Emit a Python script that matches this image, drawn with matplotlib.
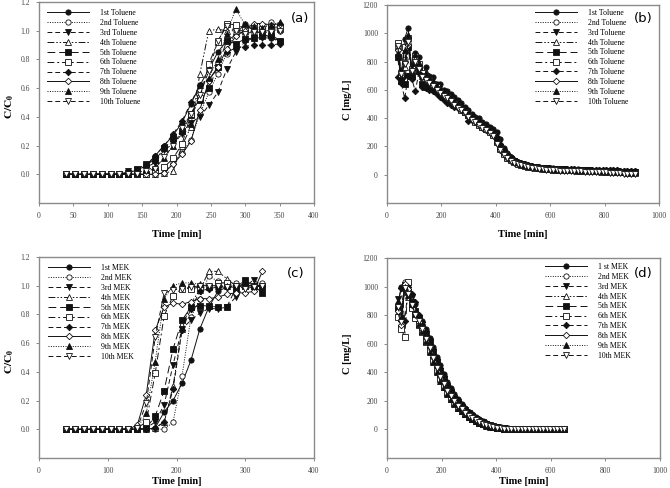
import numpy as np
import matplotlib
matplotlib.use("Agg")
import matplotlib.pyplot as plt

plt.rcParams['font.family'] = ['Liberation Serif', 'DejaVu Serif']
plt.rcParams['mathtext.fontset'] = 'stix'

## sampling times [min]
t_all = [39, 52, 65, 78, 91, 104, 117, 130, 143, 156,
         169, 182, 195, 208, 221, 234, 247, 260, 273, 286,
         299, 312, 325, 338, 351, 364, 377, 390, 403, 416,
         429, 442, 455, 468, 481, 494, 507, 520, 533, 546,
         559, 572, 585, 598, 611, 624, 637, 650, 663, 676,
         689, 702, 715, 728, 741, 754, 767, 780, 793, 806,
         819, 832, 845, 858, 871, 884, 897, 910]
t_a = t_all[:25]   # toluene breakthrough
t_b = t_all[:68]   # toluene concentration
t_c = t_all[:23]   # MEK breakthrough
t_d = t_all[:48]   # MEK concentration

## (a) toluene C/C0
a1 = [0]*7 + [0.01, 0.03, 0.06, 0.13, 0.20, 0.27, 0.36, 0.49, 0.62, 0.73, 0.85, 0.93, 0.97, 1.05, 1.00, 0.98, 0.95, 0.93]
a2 = [0]*11 + [0.01, 0.08, 0.15, 0.24, 0.42, 0.57, 0.70, 0.84, 1.00, 0.98, 1.00, 1.02, 1.06, 1.00]
a3 = [0]*7 + [0.02, 0.03, 0.05, 0.08, 0.17, 0.21, 0.28, 0.36, 0.40, 0.48, 0.57, 0.73, 0.85, 0.92, 0.95, 0.95, 0.95, 0.92]
a4 = [0]*11 + [0.01, 0.02, 0.20, 0.33, 0.70, 1.00, 1.01, 1.00, 1.00, 1.00, 1.00, 1.00, 1.00, 1.01]
a5 = [0]*7 + [0.01, 0.04, 0.07, 0.10, 0.18, 0.25, 0.30, 0.41, 0.52, 0.60, 0.75, 0.93, 0.91, 0.94, 0.95, 0.96, 0.97, 0.93]
a6 = [0]*10 + [0.03, 0.05, 0.11, 0.21, 0.42, 0.53, 0.77, 0.92, 1.05, 1.04, 1.02, 1.02, 1.01, 1.02, 1.02]
a7 = [0]*7 + [0.01, 0.03, 0.06, 0.13, 0.20, 0.28, 0.37, 0.50, 0.62, 0.66, 0.74, 0.85, 0.88, 0.89, 0.90, 0.90, 0.90, 0.91]
a8 = [0]*11 + [0.01, 0.07, 0.14, 0.23, 0.45, 0.65, 0.75, 0.87, 0.96, 1.00, 1.05, 1.05, 1.04, 1.05]
a9 = [0]*8 + [0.01, 0.03, 0.05, 0.11, 0.20, 0.30, 0.35, 0.62, 0.67, 0.80, 0.98, 1.15, 1.05, 1.03, 1.02, 1.04, 1.06]
a10 = [0]*9 + [0.02, 0.04, 0.12, 0.20, 0.32, 0.42, 0.55, 0.72, 0.93, 1.03, 1.00, 0.98, 0.99, 0.99, 0.99, 1.00]

## (b) toluene C [mg/L]
b1 = [840, 690, 960, 1040, 690, 860, 830, 710, 760, 700, 690, 640, 640, 600, 590, 570, 550, 530, 510, 480,
      460, 430, 410, 400, 370, 360, 340, 320, 300, 250, 190, 150, 125, 105, 92, 82, 74, 67, 62, 57,
      53, 50, 48, 46, 44, 43, 42, 41, 40, 39, 38, 37, 36, 36, 35, 34, 34, 33, 32, 32, 31, 30, 30, 29, 28, 28, 27, 26]
b2 = [900, 700, 820, 930, 720, 820, 760, 700, 690, 660, 640, 610, 590, 570, 550, 530, 510, 490, 470, 450,
      420, 400, 380, 360, 345, 330, 310, 290, 240, 190, 155, 128, 108, 94, 83, 74, 67, 61, 56, 52,
      48, 45, 43, 41, 39, 38, 37, 36, 35, 34, 33, 32, 31, 30, 29, 28, 27, 26, 25, 24, 23, 22, 21, 20, 19, 18, 17, 16]
b3 = [870, 680, 700, 950, 730, 800, 750, 690, 680, 660, 630, 610, 590, 570, 550, 530, 510, 490, 470, 450,
      425, 405, 385, 365, 345, 330, 315, 295, 245, 195, 160, 130, 110, 96, 85, 76, 68, 62, 57, 53,
      49, 46, 44, 42, 40, 39, 38, 37, 36, 35, 34, 33, 32, 31, 30, 29, 28, 27, 26, 25, 24, 23, 22, 21, 20, 19, 18, 17]
b4 = [920, 700, 760, 980, 760, 830, 770, 710, 700, 680, 650, 630, 600, 580, 560, 540, 520, 500, 470, 450,
      430, 410, 390, 370, 350, 335, 320, 300, 250, 200, 165, 135, 112, 97, 86, 77, 69, 63, 58, 54,
      50, 47, 45, 43, 41, 40, 39, 38, 37, 36, 35, 34, 33, 32, 31, 30, 29, 28, 27, 26, 25, 24, 23, 22, 21, 20, 19, 18]
b5 = [830, 660, 640, 900, 700, 780, 730, 640, 620, 640, 620, 600, 580, 560, 545, 525, 505, 485, 465, 440,
      420, 400, 380, 360, 340, 325, 310, 290, 240, 190, 155, 128, 108, 95, 84, 75, 68, 62, 57, 53,
      49, 46, 44, 42, 40, 39, 38, 37, 36, 35, 34, 33, 32, 31, 30, 29, 28, 27, 26, 25, 24, 23, 22, 21, 20, 19, 18, 17]
b6 = [930, 720, 900, 970, 750, 840, 780, 720, 700, 670, 640, 620, 590, 570, 550, 530, 505, 485, 460, 440,
      420, 395, 375, 355, 335, 320, 300, 280, 230, 180, 145, 120, 102, 89, 79, 71, 64, 58, 53, 49,
      45, 42, 40, 38, 36, 35, 34, 33, 32, 31, 30, 29, 28, 27, 26, 25, 24, 23, 22, 21, 20, 19, 18, 17, 16, 15, 14, 13]
b7 = [690, 650, 540, 700, 680, 590, 720, 620, 610, 600, 590, 570, 550, 530, 510, 490, 480, 470, 460, 440,
      380, 390, 380, 360, 350, 340, 325, 310, 270, 215, 175, 145, 122, 105, 92, 82, 74, 67, 61, 56,
      52, 49, 47, 45, 43, 42, 41, 40, 39, 38, 37, 36, 35, 34, 34, 33, 33, 32, 32, 31, 31, 30, 30, 29, 29, 28, 28, 27]
b8 = [880, 700, 800, 920, 740, 810, 760, 700, 680, 660, 640, 610, 590, 565, 545, 525, 500, 480, 460, 440,
      415, 395, 375, 355, 335, 318, 300, 280, 225, 178, 143, 118, 100, 87, 77, 69, 62, 56, 51, 47,
      44, 41, 39, 37, 35, 34, 33, 32, 31, 30, 29, 28, 27, 26, 25, 24, 23, 22, 21, 20, 19, 18, 17, 16, 15, 14, 13, 12]
b9 = [860, 690, 880, 990, 710, 850, 790, 700, 720, 690, 660, 630, 610, 590, 570, 550, 530, 505, 485, 465,
      440, 420, 400, 380, 360, 345, 330, 310, 260, 205, 168, 138, 116, 100, 88, 79, 71, 65, 59, 55,
      51, 48, 46, 44, 42, 41, 40, 39, 38, 37, 36, 35, 34, 33, 32, 31, 30, 29, 28, 27, 26, 25, 24, 23, 22, 21, 20, 19]
b10 = [910, 710, 780, 940, 730, 800, 750, 690, 670, 650, 630, 600, 580, 560, 540, 520, 495, 475, 455, 435,
       410, 390, 370, 350, 330, 315, 295, 275, 220, 175, 140, 115, 97, 84, 74, 66, 59, 53, 48, 44,
       40, 37, 35, 33, 31, 30, 29, 28, 27, 26, 25, 24, 23, 22, 21, 20, 19, 18, 17, 16, 15, 13, 12, 10, 8, 6, 4, 2]

## (c) MEK C/C0
c1 = [0]*10 + [0.01, 0.12, 0.20, 0.32, 0.48, 0.70, 0.85, 0.96, 0.99, 0.99, 1.00, 1.00, 1.00]
c2 = [0]*12 + [0.05, 0.37, 0.78, 0.91, 1.07, 1.03, 1.01, 1.02, 1.00, 0.99, 1.02]
c3 = [0]*9 + [0.01, 0.05, 0.17, 0.45, 0.70, 0.76, 0.81, 0.84, 0.84, 0.85, 0.92, 0.99, 1.04, 1.00]
c4 = [0]*10 + [0.01, 0.05, 0.30, 0.70, 0.88, 0.97, 1.10, 1.10, 1.05, 1.00, 1.00, 1.00, 0.99]
c5 = [0]*9 + [0.01, 0.09, 0.27, 0.56, 0.76, 0.85, 0.86, 0.86, 0.85, 0.85, 0.98, 1.04, 1.00, 0.95]
c6 = [0]*8 + [0.01, 0.05, 0.39, 0.79, 0.93, 0.98, 0.98, 0.99, 0.99, 1.02, 1.02, 1.00, 1.00, 1.00, 1.00]
c7 = [0]*10 + [0.01, 0.05, 0.28, 0.69, 0.84, 0.96, 0.98, 0.99, 0.99, 1.00, 1.01, 1.00, 1.00]
c8 = [0]*8 + [0.03, 0.24, 0.69, 0.85, 0.88, 0.87, 0.89, 0.91, 0.91, 0.92, 0.94, 0.95, 0.95, 0.96, 1.10]
c9 = [0]*8 + [0.01, 0.11, 0.47, 0.91, 1.00, 1.02, 1.02, 1.01, 1.00, 1.00, 1.00, 1.00, 1.01, 1.00, 1.00]
c10 = [0]*8 + [0.01, 0.18, 0.64, 0.95, 0.97, 0.98, 0.99, 1.00, 1.00, 1.00, 0.99, 1.00, 0.98, 0.99, 1.00]

## (d) MEK C [mg/L]
d1 = [840, 1000, 990, 1020, 940, 880, 790, 760, 700, 640, 580, 510, 450, 390, 335, 290, 245, 210, 180, 150,
      125, 105, 86, 70, 56, 44, 34, 26, 19, 14, 10, 7, 5, 3, 2, 1, 1] + [0]*11
d2 = [800, 720, 1030, 960, 860, 800, 740, 690, 630, 570, 500, 430, 370, 320, 275, 235, 200, 170, 142, 118,
      98, 81, 66, 53, 42, 33, 25, 18, 13, 9, 6, 4, 3, 2, 1] + [0]*13
d3 = [910, 760, 1000, 950, 870, 810, 750, 700, 640, 580, 510, 440, 380, 330, 285, 240, 205, 175, 147, 122,
      102, 85, 70, 56, 45, 35, 27, 20, 14, 10, 7, 5, 3, 2, 1, 1] + [0]*12
d4 = [870, 740, 990, 930, 860, 800, 740, 690, 620, 560, 490, 420, 360, 310, 265, 225, 190, 160, 134, 111,
      92, 76, 62, 50, 39, 30, 22, 16, 11, 8, 5, 3, 2, 1, 1] + [0]*13
d5 = [850, 780, 1010, 960, 890, 830, 780, 720, 670, 610, 540, 470, 410, 355, 305, 260, 222, 190, 160, 134,
      112, 93, 76, 61, 49, 38, 29, 21, 15, 11, 8, 5, 3, 2, 1, 1] + [0]*12
d6 = [790, 700, 650, 1030, 850, 780, 730, 680, 610, 550, 480, 410, 350, 300, 255, 215, 182, 153, 128, 106,
      87, 71, 58, 46, 36, 28, 21, 15, 10, 7, 5, 3, 2, 1] + [0]*14
d7 = [880, 990, 760, 1000, 950, 890, 800, 750, 690, 630, 560, 490, 430, 375, 320, 275, 235, 200, 170, 143,
      120, 100, 82, 67, 54, 42, 32, 24, 17, 12, 8, 6, 4, 2, 1, 1] + [0]*12
d8 = [830, 730, 1020, 980, 870, 810, 750, 700, 640, 580, 505, 435, 375, 325, 278, 238, 202, 172, 145, 120,
      100, 83, 68, 55, 43, 34, 26, 19, 13, 9, 6, 4, 3, 2, 1] + [0]*13
d9 = [900, 780, 1000, 940, 880, 810, 740, 690, 620, 540, 470, 400, 340, 295, 250, 212, 180, 152, 127, 105,
      86, 70, 57, 45, 35, 27, 20, 14, 10, 7, 5, 3, 2, 1, 1] + [0]*13
d10 = [860, 750, 990, 950, 870, 800, 760, 700, 630, 570, 500, 430, 370, 320, 272, 232, 197, 167, 140, 116,
       96, 79, 64, 51, 40, 31, 23, 17, 12, 8, 6, 4, 2, 1, 1] + [0]*13

tol_labels = ['1st Toluene', '2nd Toluene', '3rd Toluene', '4th Toluene', '5th Toluene',
              '6th Toluene', '7th Toluene', '8th Toluene', '9th Toluene', '10th Toluene']
mek_labels_c = ['1st MEK', '2nd MEK', '3rd MEK', '4th MEK', '5th MEK',
                '6th MEK', '7th MEK', '8th MEK', '9th MEK', '10th MEK']
mek_labels_d = ['1 st MEK'] + mek_labels_c[1:]

# line style, marker, filled?
styles = [
    ('-', 'o', True),
    ((0, (1, 1.5)), 'o', False),
    ((0, (5, 3)), 'v', True),
    ((0, (7, 2, 1.5, 2, 1.5, 2)), '^', False),
    ((0, (8, 4)), 's', True),
    ((0, (7, 3, 2, 3)), 's', False),
    ((0, (5, 3)), 'D', True),
    ('-', 'D', False),
    ((0, (1, 1.5)), '^', True),
    ((0, (5, 3)), 'v', False),
]

W, H = 670, 488
fig = plt.figure(figsize=(W / 100, H / 100), dpi=100)

def px_axes(x0, x1, ytop, ybot):
    return fig.add_axes([x0 / W, 1 - ybot / H, (x1 - x0) / W, (ybot - ytop) / H])

def draw(ax, t, series, labels, leg_x, leg_y, tag, tag_xy):
    for s, lab, (ls, mk, filled) in zip(series, labels, styles):
        assert len(s) == len(t)
        ms = 3.3 if mk == 'D' else 3.8
        ax.plot(t, s, color='#111111', lw=0.7, ls=ls, marker=mk, ms=ms,
                mfc='#111111' if filled else 'white', mec='#111111', mew=0.6, label=lab)
    ax.legend(loc='upper left', bbox_to_anchor=(leg_x, leg_y), frameon=False, fontsize=5.6,
              handlelength=5.4, handletextpad=1.4, labelspacing=0.24, borderpad=0,
              borderaxespad=0, numpoints=1)
    ax.text(tag_xy[0], tag_xy[1], tag, transform=ax.transAxes, ha='center', va='center',
            fontsize=9.5, family='DejaVu Sans')
    for sp in ax.spines.values():
        sp.set_color('#8a8a8a')
        sp.set_linewidth(1.0)
    ax.tick_params(labelsize=5.5, labelcolor='#444444', color='#777777', direction='out',
                   length=2.5, width=0.6, pad=4)

ax_a = px_axes(39, 314, 2, 203)
draw(ax_a, t_a, [a1, a2, a3, a4, a5, a6, a7, a8, a9, a10], tol_labels, 0.03, 0.965, '(a)', (0.949, 0.92))
ax_a.set_xlim(0, 400)
ax_a.set_ylim(-0.2, 1.2)
ax_a.set_xticks(range(0, 401, 50))
ax_a.set_yticks([0.0, 0.2, 0.4, 0.6, 0.8, 1.0, 1.2])
ax_a.set_yticklabels(['0.0', '0.2', '0.4', '0.6', '0.8', '1.0', '1.2'])

ax_b = px_axes(387, 659, 5, 203)
draw(ax_b, t_b, [b1, b2, b3, b4, b5, b6, b7, b8, b9, b10], tol_labels, 0.544, 0.98, '(b)', (0.941, 0.934))
ax_b.set_xlim(0, 1000)
ax_b.set_ylim(-200, 1200)
ax_b.set_xticks(range(0, 1001, 200))
ax_b.set_yticks(range(0, 1201, 200))

ax_c = px_axes(39, 314, 257, 458)
draw(ax_c, t_c, [c1, c2, c3, c4, c5, c6, c7, c8, c9, c10], mek_labels_c, 0.033, 0.965, '(c)', (0.935, 0.92))
ax_c.set_xlim(0, 400)
ax_c.set_ylim(-0.2, 1.2)
ax_c.set_xticks(range(0, 401, 100))
ax_c.set_yticks([0.0, 0.2, 0.4, 0.6, 0.8, 1.0, 1.2])
ax_c.set_yticklabels(['0.0', '0.2', '0.4', '0.6', '0.8', '1.0', '1.2'])

ax_d = px_axes(387, 660, 258, 458)
draw(ax_d, t_d, [d1, d2, d3, d4, d5, d6, d7, d8, d9, d10], mek_labels_d, 0.579, 0.975, '(d)', (0.938, 0.925))
ax_d.set_xlim(0, 1000)
ax_d.set_ylim(-200, 1200)
ax_d.set_xticks(range(0, 1001, 200))
ax_d.set_yticks(range(0, 1201, 200))

for ax in (ax_a, ax_b):
    ax.set_xlabel('Time [min]', fontsize=7.5, fontweight='bold')
    ax.xaxis.set_label_coords(0.5, -0.135)
for ax in (ax_c, ax_d):
    ax.set_xlabel('Time [min]', fontsize=7.5, fontweight='bold')
    ax.xaxis.set_label_coords(0.5, -0.095)
ax_a.set_ylabel(r'$\mathbf{C/C_0}$', fontsize=8)
ax_c.set_ylabel(r'$\mathbf{C/C_0}$', fontsize=8)
ax_b.set_ylabel('C [mg/L]', fontsize=7.5, fontweight='bold')
ax_d.set_ylabel('C [mg/L]', fontsize=7.5, fontweight='bold')
ax_a.yaxis.set_label_coords(-0.085, 0.48)
ax_c.yaxis.set_label_coords(-0.085, 0.48)
ax_b.yaxis.set_label_coords(-0.128, 0.52)
ax_d.yaxis.set_label_coords(-0.128, 0.52)

fig.savefig('out.png', dpi=100)
